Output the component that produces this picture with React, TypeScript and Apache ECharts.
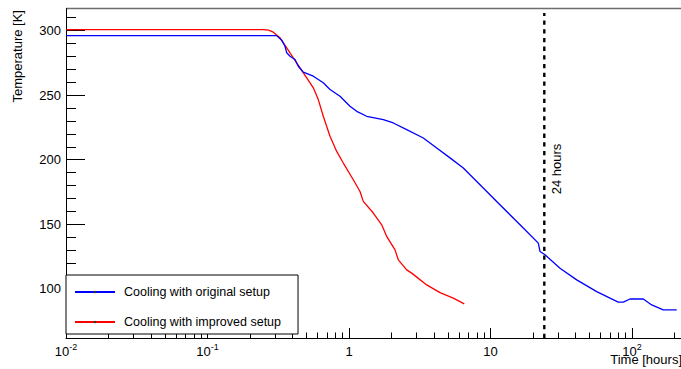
import { useEffect, useRef } from 'react';
import * as echarts from 'echarts';

const FONT = '"Liberation Sans", Arial, Helvetica, sans-serif';

// Cooling with the original setup: elapsed time [hours] and temperature [K]
const originalTime = [
  0.01, 0.308, 0.3345, 0.353, 0.363, 0.383, 0.4153, 0.438, 0.4753, 0.5594, 0.658,
  0.734, 0.864, 1.016, 1.134, 1.334, 1.748, 2.056, 2.557, 3.351, 4.167, 5.174, 6.424,
  8.89, 11.06, 13.73, 17.05, 21.77, 22.39, 24.28, 30.99, 40.66, 56.3, 69.9, 80.0,
  86.8, 96.8, 120.2, 137.8, 166.4, 207.0,
];
const originalTemp = [
  296.0, 296.0, 292.5, 287.8, 282.7, 280.1, 277.5, 272.3, 267.7, 264.6, 259.5,
  254.3, 249.1, 241.4, 237.4, 233.6, 231.0, 228.4, 223.3, 216.8, 209.1, 201.4, 193.6,
  178.1, 167.7, 157.4, 147.1, 135.4, 128.9, 126.4, 116.0, 107.0, 97.9, 92.8, 89.7,
  89.7, 92.2, 92.2, 87.6, 83.7, 83.7,
];

// Cooling with the improved setup
const improvedTime = [
  0.01, 0.248, 0.27, 0.2917, 0.3254, 0.363, 0.4041, 0.4506, 0.5025, 0.5594, 0.6067,
  0.658, 0.734, 0.8187, 0.9116, 1.0725, 1.196, 1.262, 1.485, 1.703, 1.847, 2.114,
  2.231, 2.557, 2.774, 3.541, 4.397, 5.459, 6.527,
];
const improvedTemp = [
  300.6, 300.6, 300.2, 298.7, 294.3, 286.6, 278.8, 271.1, 263.3, 255.6, 246.5,
  233.6, 218.1, 206.4, 197.4, 184.5, 175.4, 167.7, 158.7, 149.6, 140.6, 130.2,
  122.5, 114.7, 112.2, 103.1, 97.1, 92.8, 88.4,
];

const seriesNames = ['Cooling with original setup', 'Cooling with improved setup'];

// 24 hour marker
const markerHours = 24;
const markerLabel = '24 hours';
const markerSpan = [62, 313.5];

// Axis ranges and ticks
const timeRange = [0.01, 1000];
const tempRange = [62, 317];
const tempMajorTicks = [100, 150, 200, 250, 300];
const tempMinorTicks = [
  70, 80, 90, 110, 120, 130, 140, 160, 170, 180, 190, 210, 220, 230, 240, 260, 270,
  280, 290, 310,
];
const timeDecades = [0.01, 0.1, 1, 10, 100];
const timeSubSteps = [2, 3, 4, 5, 6, 7, 8, 9];
const timeMinorTicks = timeDecades.flatMap((d) => timeSubSteps.map((m) => +(d * m).toPrecision(6)));

const zip = (xs: number[], ys: number[]) => xs.map((x, i) => [x, ys[i]]);

function timeLabel(v: number): string {
  const e = Math.round(Math.log10(v));
  if (e === 0) return '{b|1}';
  if (e === 1) return '{b|10}';
  return `{b|10}{s|${e}}`;
}

export default function App() {
  const ref = useRef<HTMLDivElement>(null);

  useEffect(() => {
    if (!ref.current) return;
    const chart = echarts.init(ref.current, null, { renderer: 'svg' });

    const black = '#000';
    chart.setOption({
      animation: false,
      backgroundColor: '#fff',
      textStyle: { fontFamily: FONT },
      // the time axis runs on past the visible frame on the right
      grid: { left: 66, top: 8.5, width: 707.5, height: 329.5, containLabel: false },
      xAxis: [
        {
          type: 'log',
          logBase: 10,
          min: timeRange[0],
          max: timeRange[1],
          splitNumber: 5,
          axisLine: { show: true, onZero: false, lineStyle: { color: black, width: 1 } },
          axisTick: { show: true, inside: true, length: 10, lineStyle: { color: black, width: 1 } },
          axisLabel: {
            show: true,
            showMaxLabel: false,
            margin: 4,
            color: black,
            formatter: (v: number) => timeLabel(v),
            rich: {
              b: { fontSize: 13, fontFamily: FONT, color: black, lineHeight: 18 },
              s: { fontSize: 9, fontFamily: FONT, color: black, lineHeight: 10, verticalAlign: 'top' },
            },
          },
          splitLine: { show: false },
        },
        {
          type: 'log',
          logBase: 10,
          position: 'bottom',
          min: timeRange[0],
          max: timeRange[1],
          axisLine: { show: false },
          axisTick: {
            show: true,
            inside: true,
            length: 5.5,
            customValues: timeMinorTicks,
            lineStyle: { color: black, width: 1 },
          },
          axisLabel: { show: false },
          splitLine: { show: false },
        },
      ],
      yAxis: [
        {
          type: 'value',
          position: 'left',
          min: tempRange[0],
          max: tempRange[1],
          axisLine: { show: true, onZero: false, lineStyle: { color: black, width: 1 } },
          axisTick: {
            show: true,
            inside: true,
            length: 19,
            customValues: tempMajorTicks,
            lineStyle: { color: black, width: 1 },
          },
          axisLabel: {
            show: true,
            customValues: tempMajorTicks,
            margin: 5,
            fontSize: 13,
            fontFamily: FONT,
            color: black,
          },
          splitLine: { show: false },
        },
        {
          type: 'value',
          position: 'left',
          min: tempRange[0],
          max: tempRange[1],
          axisLine: { show: false },
          axisTick: {
            show: true,
            inside: true,
            length: 10,
            customValues: tempMinorTicks,
            lineStyle: { color: black, width: 1 },
          },
          axisLabel: { show: false },
          splitLine: { show: false },
        },
      ],
      legend: {
        data: seriesNames,
        orient: 'vertical',
        left: 66,
        top: 275,
        backgroundColor: '#fff',
        borderColor: black,
        borderWidth: 1,
        borderRadius: 0,
        padding: [10.5, 17, 5.5, 8],
        itemGap: 17,
        itemWidth: 40,
        itemHeight: 3,
        itemStyle: { color: '#333' },
        textStyle: { fontSize: 12.5, fontFamily: FONT, color: black, padding: [0, 0, 0, 4] },
      },
      series: [
        {
          name: seriesNames[0],
          type: 'line',
          data: zip(originalTime, originalTemp),
          color: '#0000ff',
          symbol: 'circle',
          showSymbol: false,
          lineStyle: { color: '#0000ff', width: 1.3 },
          z: 3,
        },
        {
          name: seriesNames[1],
          type: 'line',
          data: zip(improvedTime, improvedTemp),
          color: '#ff0000',
          symbol: 'circle',
          showSymbol: false,
          lineStyle: { color: '#ff0000', width: 1.3 },
          z: 2,
        },
        {
          name: markerLabel,
          type: 'line',
          data: [
            [markerHours, markerSpan[0]],
            [markerHours, markerSpan[1]],
          ],
          symbol: 'none',
          lineStyle: { color: black, width: 2.4, type: [4.3, 4.4] },
          z: 4,
        },
      ],
      graphic: [
        {
          type: 'line',
          shape: { x1: 66, y1: 8.5, x2: 681, y2: 8.5 },
          style: { stroke: '#6e6e6e', lineWidth: 1.5 },
        },
        {
          type: 'text',
          x: 17,
          y: 10,
          rotation: Math.PI / 2,
          style: {
            text: 'Temperature [K]',
            fontSize: 13,
            fontFamily: FONT,
            fill: black,
            align: 'right',
            verticalAlign: 'middle',
          },
        },
        {
          type: 'text',
          x: 682,
          y: 359,
          style: {
            text: 'Time [hours]',
            fontSize: 13,
            fontFamily: FONT,
            fill: black,
            align: 'right',
            verticalAlign: 'middle',
          },
        },
        {
          type: 'text',
          x: 556.5,
          y: 169,
          rotation: Math.PI / 2,
          style: {
            text: markerLabel,
            fontSize: 13,
            fontFamily: FONT,
            fill: black,
            align: 'center',
            verticalAlign: 'middle',
          },
        },
      ],
    });

    return () => chart.dispose();
  }, []);

  return (
    <div
      style={{
        position: 'fixed',
        left: 0,
        top: 0,
        width: 681,
        height: 369,
        overflow: 'hidden',
        background: '#fff',
      }}
    >
      <div ref={ref} style={{ width: 800, height: 369 }} />
    </div>
  );
}
